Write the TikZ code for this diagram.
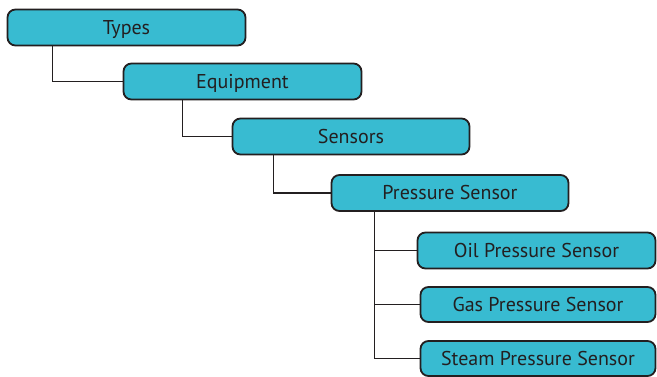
\documentclass[tikz,border=0pt]{standalone}
\usepackage{fontspec}
\setmainfont{PT Sans}
\usepackage{tikz}
\definecolor{boxfill}{HTML}{38BBD1}
\definecolor{ink}{HTML}{231F20}

\begin{document}
\begin{tikzpicture}[x=1pt,y=-1pt]
\tikzstyle{every node}+=[inner sep=0pt]
\tikzstyle{levelbox}=[draw=ink, fill=boxfill, line width=1.8pt, rounded corners=8pt,
  minimum height=36pt, text=ink, text height=14pt, text depth=0pt,
  font=\fontsize{20}{24}\selectfont]
\tikzstyle{branch}=[draw=ink, line width=1.6pt]
\useasboundingbox (0,0) rectangle (657,377);
% chain of levels
\node [levelbox, minimum width=238pt] (types) at (126.5,27.5) {Types};
\node [levelbox, minimum width=238pt] (equip) at (242.5,81.5) {Equipment};
\node [levelbox, minimum width=237pt] (sens) at (351,136.5) {Sensors};
\node [levelbox, minimum width=237pt] (press) at (450,193) {Pressure Sensor};
% leaves
\node [levelbox, minimum width=238pt] (oil) at (536.5,250.5) {Oil Pressure Sensor};
\node [levelbox, minimum width=235pt, minimum height=35pt] (gas) at (538,304.5) {Gas Pressure Sensor};
\node [levelbox, minimum width=235pt, minimum height=35pt] (steam) at (538,358.5) {Steam Pressure Sensor};
% connectors
\draw [branch] (types.south west) ++(46,0) |- (equip.west);
\draw [branch] (equip.south west) ++(60,0) |- (sens.west);
\draw [branch] (sens.south west) ++(42,0) |- (press.west);
\draw [branch] (press.south west) ++(44,0) coordinate (trunk) |- (oil.west);
\draw [branch] (trunk) |- (gas.west);
\draw [branch] (trunk) |- (steam.west);
\end{tikzpicture}
\end{document}
